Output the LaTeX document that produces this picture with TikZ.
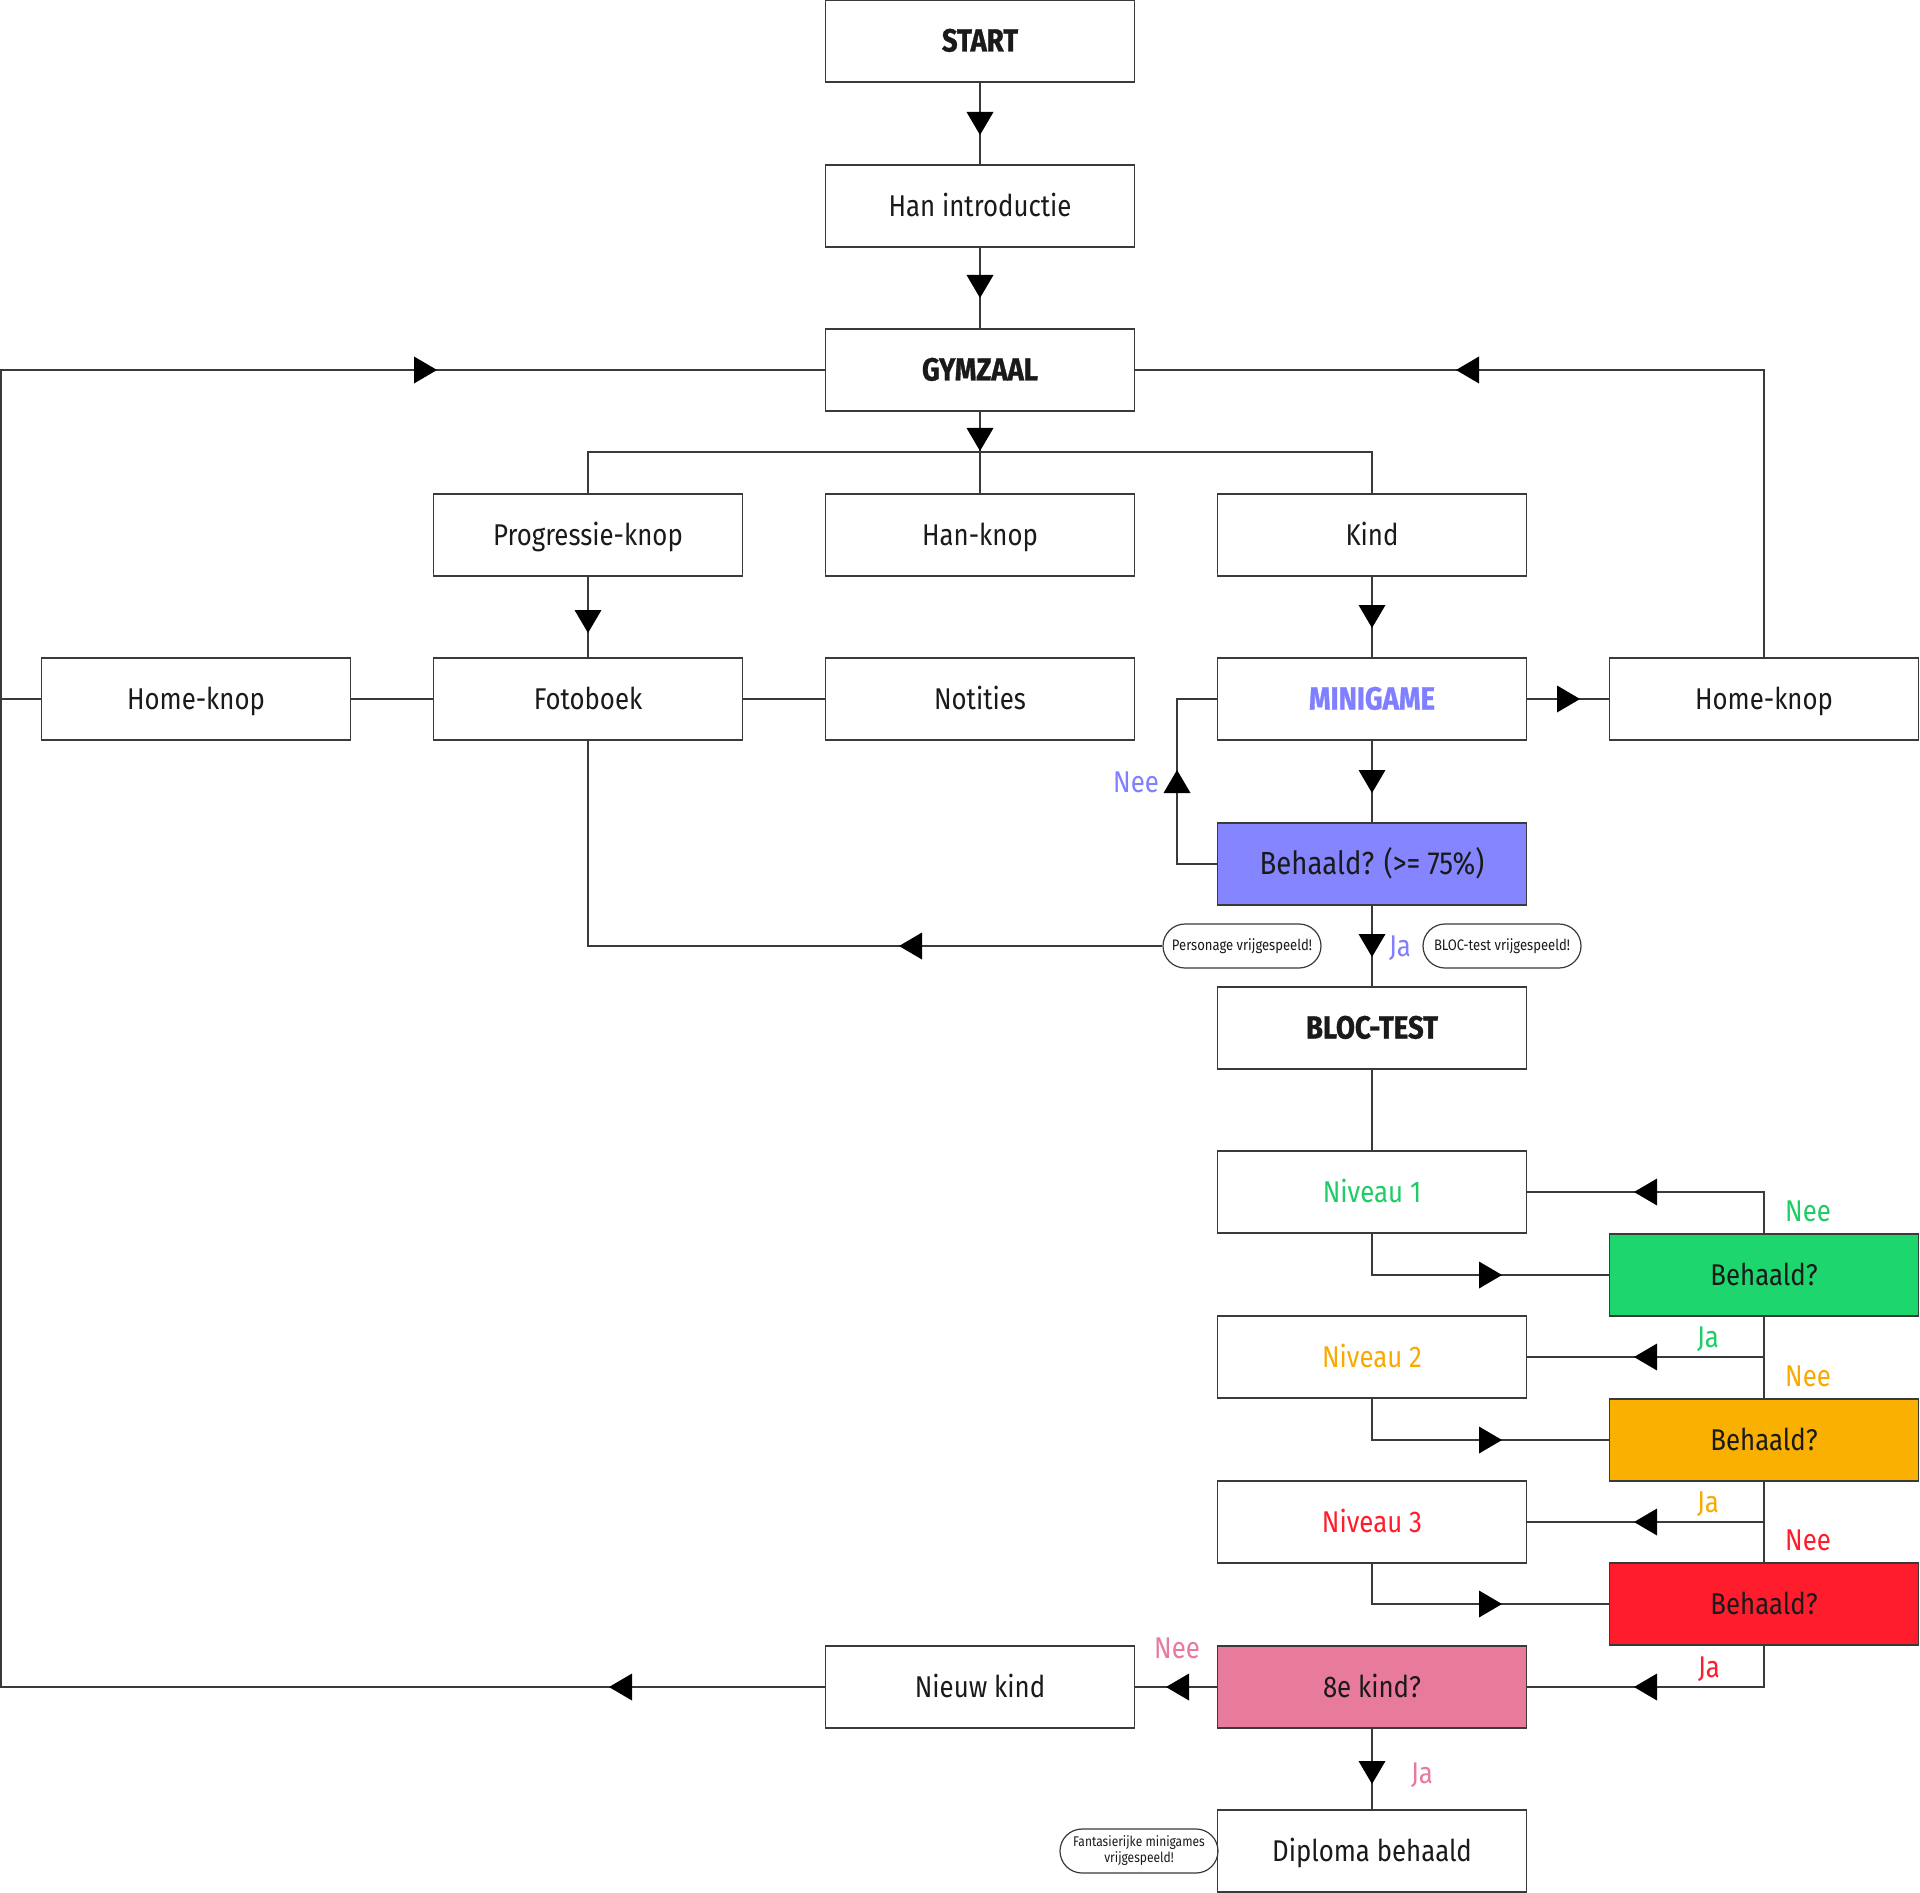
\documentclass[tikz,border=0pt]{standalone}
\usepackage{fontspec}
\setmainfont{Fira Sans}[FakeStretch=0.86, BoldFeatures={FakeBold=1}]
\definecolor{lineg}{HTML}{3A3A3A}
\definecolor{textc}{HTML}{1A1A1A}
\definecolor{purp}{HTML}{8585FF}
\definecolor{purpT}{HTML}{7F7FFF}
\definecolor{grn}{HTML}{1DD66E}
\definecolor{grnT}{HTML}{1FCC66}
\definecolor{org}{HTML}{F9B000}
\definecolor{orgT}{HTML}{F9AA00}
\definecolor{rd}{HTML}{FF1C2C}
\definecolor{pnk}{HTML}{E87A9B}
\begin{document}
\begin{tikzpicture}[x=0.5pt,y=-0.5pt,
  box/.style={draw=lineg, line width=0.7pt, minimum width=154.5pt, minimum height=41pt,
    inner sep=0pt, text height=10.5pt, text depth=0pt, text=textc,
    font=\fontsize{15}{18}\selectfont},
  bbox/.style={box, font=\fontsize{16}{18}\selectfont\bfseries},
  pill/.style={draw=lineg, line width=0.6pt, rounded corners=11pt, minimum height=22pt,
    minimum width=79pt, inner sep=0pt, text=textc, align=center,
    font=\fontsize{7.6}{8}\selectfont},
  lbl/.style={inner sep=0pt, text height=10.5pt, text depth=0pt,
    font=\fontsize{15}{18}\selectfont},
  conn/.style={draw=lineg, line width=0.7pt},
  triD/.pic={\fill[black] (0,0) -- (-13.5,-23) -- (13.5,-23) -- cycle;},
  triU/.pic={\fill[black] (0,0) -- (-13.5,23) -- (13.5,23) -- cycle;},
  triR/.pic={\fill[black] (0,0) -- (-23,-13.5) -- (-23,13.5) -- cycle;},
  triL/.pic={\fill[black] (0,0) -- (23,-13.5) -- (23,13.5) -- cycle;}
]
\fill[white] (0,0) rectangle (1920,1893);
\useasboundingbox (0,0) rectangle (1920,1893);

% nodes
\node[bbox] (start) at (980,41) {START};
\node[box] (intro) at (980,206) {Han introductie};
\node[bbox] (gym) at (980,370) {GYMZAAL};
\node[box] (prog) at (588,535) {Progressie-knop};
\node[box] (hanknop) at (980,535) {Han-knop};
\node[box] (kind) at (1372,535) {Kind};
\node[box] (homeL) at (196,699) {Home-knop};
\node[box] (foto) at (588,699) {Fotoboek};
\node[box] (notes) at (980,699) {Notities};
\node[bbox, text=purpT] (mini) at (1372,699) {MINIGAME};
\node[box] (homeR) at (1764,699) {Home-knop};
\node[box, fill=purp, font=\fontsize{16}{18}\selectfont] (beh) at (1372,864) {Behaald? (>= 75\%)};
\node[bbox] (bloc) at (1372,1028) {BLOC-TEST};
\node[box, text=grnT] (n1) at (1372,1192) {Niveau 1};
\node[box, fill=grn] (b1) at (1764,1275) {Behaald?};
\node[box, text=orgT] (n2) at (1372,1357) {Niveau 2};
\node[box, fill=org] (b2) at (1764,1440) {Behaald?};
\node[box, text=rd] (n3) at (1372,1522) {Niveau 3};
\node[box, fill=rd] (b3) at (1764,1604) {Behaald?};
\node[box, fill=pnk] (kind8) at (1372,1687) {8e kind?};
\node[box] (nieuw) at (980,1687) {Nieuw kind};
\node[box] (diploma) at (1372,1851) {Diploma behaald};

\node[pill] (pers) at (1242,946) {Personage vrijgespeeld!};
\node[pill] (blocp) at (1502,946) {BLOC-test vrijgespeeld!};
\node[pill, font=\fontsize{7}{8}\selectfont] (fant) at (1139,1851) {Fantasierijke minigames\\vrijgespeeld!};

% helper coordinates
\coordinate (brL) at (588,452);
\coordinate (brR) at (1372,452);
\coordinate (lpTop) at (1,370);
\coordinate (lpMid) at (1,699);
\coordinate (lpBot) at (1,1687);
\coordinate (neeB) at (1177,864);
\coordinate (neeT) at (1177,699);

% connectors
\draw[conn] (start) -- (intro);
\draw[conn] (intro) -- (gym);
\draw[conn] (gym.south) -- (hanknop.north);
\draw[conn] (prog.north) -- (brL) -- (brR) -- (kind.north);
\draw[conn] (prog) -- (foto);
\draw[conn] (homeL) -- (foto);
\draw[conn] (foto) -- (notes);
\draw[conn] (kind) -- (mini);
\draw[conn] (mini) -- (homeR);
\draw[conn] (homeR.north) |- (gym.east);
\draw[conn] (mini) -- (beh);
\draw[conn] (beh.west) -- (neeB) -- (neeT) -- (mini.west);
\draw[conn] (beh) -- (bloc);
\draw[conn] (pers.west) -| (foto.south);
\draw[conn] (bloc) -- (n1);
\draw[conn] (b1.north) |- (n1.east);
\draw[conn] (n1.south) |- (b1.west);
\draw[conn] (b1.south) |- (n2.east);
\draw[conn] (b2.north) |- (n2.east);
\draw[conn] (n2.south) |- (b2.west);
\draw[conn] (b2.south) |- (n3.east);
\draw[conn] (b3.north) |- (n3.east);
\draw[conn] (n3.south) |- (b3.west);
\draw[conn] (b3.south) |- (kind8.east);
\draw[conn] (kind8) -- (nieuw);
\draw[conn] (kind8) -- (diploma);
\draw[conn] (nieuw.west) -- (lpBot) -- (lpTop) -- (gym.west);
\draw[conn] (homeL.west) -- (lpMid);

% arrowheads
\pic at (980,135) {triD};
\pic at (980,298) {triD};
\pic at (980,451) {triD};
\pic at (588,633) {triD};
\pic at (1372,628) {triD};
\pic at (1580,699) {triR};
\pic at (1372,793) {triD};
\pic at (1177,770) {triU};
\pic at (1372,957) {triD};
\pic at (899,946) {triL};
\pic at (1456,370) {triL};
\pic at (437,370) {triR};
\pic at (1634,1192) {triL};
\pic at (1502,1275) {triR};
\pic at (1634,1357) {triL};
\pic at (1502,1440) {triR};
\pic at (1634,1522) {triL};
\pic at (1502,1604) {triR};
\pic at (1634,1687) {triL};
\pic at (1166,1687) {triL};
\pic at (1372,1784) {triD};
\pic at (609,1687) {triL};

% labels
\node[lbl, text=purpT] (lNee0) at (1136,782) {Nee};
\node[lbl, text=purpT] (lJa0) at (1400,946) {Ja};
\node[lbl, text=grnT] (lNee1) at (1808,1211) {Nee};
\node[lbl, text=grnT] (lJa1) at (1708,1337) {Ja};
\node[lbl, text=orgT] (lNee2) at (1808,1376) {Nee};
\node[lbl, text=orgT] (lJa2) at (1708,1502) {Ja};
\node[lbl, text=rd] (lNee3) at (1808,1540) {Nee};
\node[lbl, text=rd] (lJa3) at (1709,1667) {Ja};
\node[lbl, text=pnk] (lNee4) at (1177,1648) {Nee};
\node[lbl, text=pnk] (lJa4) at (1422,1773) {Ja};
\end{tikzpicture}
\end{document}
